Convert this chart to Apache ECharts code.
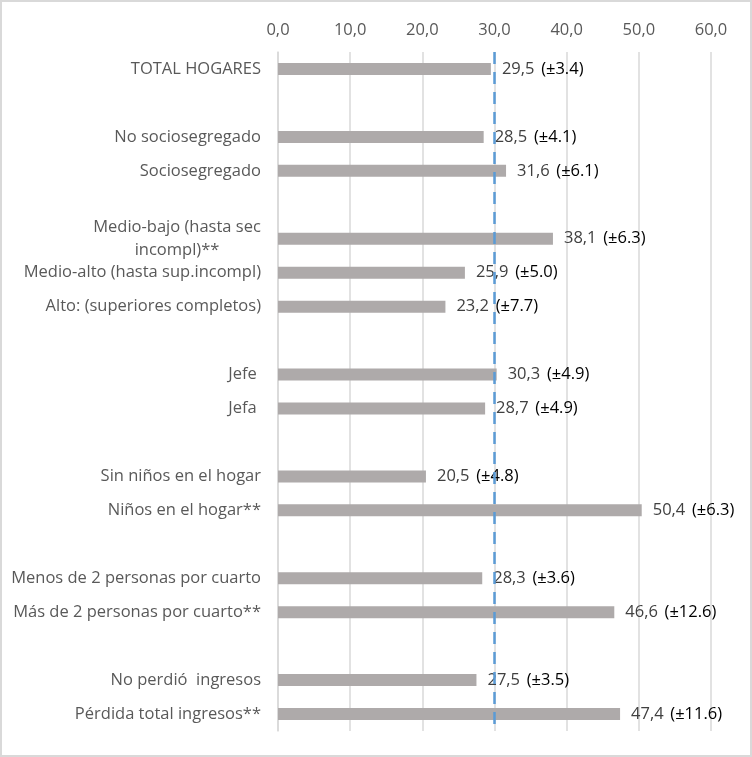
<!DOCTYPE html>
<html>
<head>
<meta charset="UTF-8">
<title>Hogares</title>
<script src="https://cdn.jsdelivr.net/npm/echarts@6/dist/echarts.min.js"></script>
<style>
  html, body { margin: 0; padding: 0; background: #fff; }
  #main { width: 752px; height: 757px; box-sizing: border-box; border: 2px solid #d9d9d9; }
</style>
</head>
<body>
<div id="main"></div>
<script type="text/javascript">
// categorías (las vacías separan los grupos)
var categories = [
    'TOTAL HOGARES', ' ',
    'No sociosegregado', 'Sociosegregado', '  ',
    'Medio-bajo (hasta sec\nincompl)**', 'Medio-alto (hasta sup.incompl)', 'Alto: (superiores completos)', '   ',
    'Jefe ', 'Jefa ', '    ',
    'Sin niños en el hogar', 'Niños en el hogar**', '     ',
    'Menos de 2 personas por cuarto', 'Más de 2 personas por cuarto**', '      ',
    'No perdió  ingresos', 'Pérdida total ingresos**'
];
var values = [
    29.5, null,
    28.5, 31.6, null,
    38.1, 25.9, 23.2, null,
    30.3, 28.7, null,
    20.5, 50.4, null,
    28.3, 46.6, null,
    27.5, 47.4
];
var errors = [
    '(±3.4)', '',
    '(±4.1)', '(±6.1)', '',
    '(±6.3)', '(±5.0)', '(±7.7)', '',
    '(±4.9)', '(±4.9)', '',
    '(±4.8)', '(±6.3)', '',
    '(±3.6)', '(±12.6)', '',
    '(±3.5)', '(±11.6)'
];
var xTicks = [0, 10, 20, 30, 40, 50, 60];
var referenceValue = 30;

var font = '"Open Sans", sans-serif';
var fs = 16.5;
var myChart = echarts.init(document.getElementById('main'));

function fmt(v) {
    return v.toFixed(1).replace('.', ',');
}

// ancho del texto, para centrar las etiquetas de dos líneas
var ctx = document.createElement('canvas').getContext('2d');
ctx.font = fs + 'px ' + font;
function textWidth(s) {
    return Math.ceil(ctx.measureText(s).width);
}

var rich = {};
function catLabel(v) {
    if (v.indexOf('\n') < 0) return v;
    var lines = v.split('\n');
    var w = Math.max.apply(null, lines.map(textWidth));
    rich.c = { width: w, align: 'center', color: '#595959', fontFamily: font, fontSize: fs, lineHeight: 23 };
    return lines.map(function (s) { return '{c|' + s + '}'; }).join('\n');
}
categories.forEach(catLabel);

myChart.setOption({
    animation: false,
    grid: { left: 276, right: 39, top: 50, bottom: 24, containLabel: false },
    xAxis: {
        type: 'value',
        position: 'top',
        min: xTicks[0],
        max: xTicks[xTicks.length - 1],
        interval: 10,
        axisLine: { show: false },
        axisTick: { show: false },
        axisLabel: {
            margin: 13,
            color: '#595959',
            fontFamily: font,
            fontSize: fs,
            formatter: function (v) { return fmt(v); }
        },
        splitLine: { lineStyle: { color: '#d9d9d9', width: 1.5 } }
    },
    yAxis: {
        type: 'category',
        inverse: true,
        data: categories,
        axisTick: { show: false },
        axisLine: { lineStyle: { color: '#d9d9d9', width: 1.5 } },
        axisLabel: {
            margin: 17,
            color: '#595959',
            fontFamily: font,
            fontSize: fs,
            lineHeight: 23,
            formatter: catLabel,
            rich: rich
        }
    },
    series: [{
        type: 'bar',
        data: values,
        barWidth: 12,
        itemStyle: { color: '#AEAAAA' },
        label: {
            show: true,
            position: 'right',
            distance: 11,
            formatter: function (p) {
                if (p.value == null) return '';
                return '{v|' + fmt(p.value) + '}  {e|' + errors[p.dataIndex] + '}';
            },
            rich: {
                v: { color: '#404040', fontFamily: font, fontSize: fs },
                e: { color: '#000000', fontFamily: font, fontSize: fs }
            }
        },
        markLine: {
            silent: true,
            symbol: 'none',
            label: { show: false },
            lineStyle: { color: '#5B9BD5', width: 2.5, type: [12, 8] },
            data: [{ xAxis: referenceValue }]
        }
    }]
});
</script>
</body>
</html>
